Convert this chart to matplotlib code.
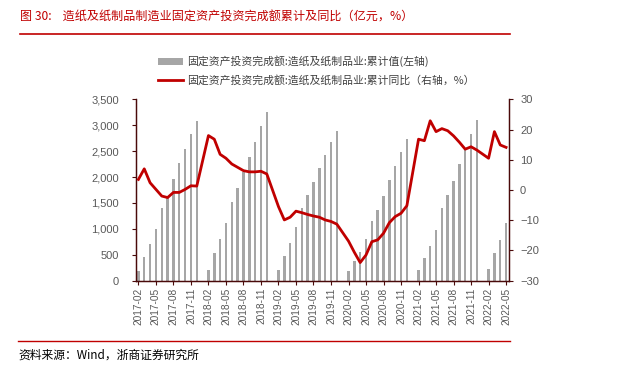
import numpy as np
import matplotlib.pyplot as plt

plt.rcParams['font.family'] = ['Noto Sans CJK SC', 'DejaVu Sans']

# monthly categories incl. January (no data in January)
months = []
for y in range(2017, 2023):
    for m in range(1, 13):
        if (y == 2017 and m < 2) or (y == 2022 and m > 5):
            continue
        months.append(f"{y}-{m:02d}")

# cumulative value (亿元), None = January without data
cum_value = [
    187, 463, 708, 1004, 1396, 1634, 1956, 2265, 2541, 2825, 3088,
    None, 206, 528, 798, 1107, 1518, 1795, 2104, 2393, 2683, 2992, 3249,
    None, 199, 483, 727, 1042, 1396, 1654, 1898, 2181, 2419, 2683, 2889,
    None, 180, 380, 553, 811, 1152, 1370, 1634, 1950, 2213, 2484, 2734,
    None, 206, 444, 676, 972, 1403, 1654, 1924, 2252, 2554, 2837, 3101,
    None, 225, 534, 778, 1107,
]
# cumulative yoy (%)
yoy = [
    3.5, 7.0, 2.4, 0.2, -2.0, -2.5, -0.8, -0.8, 0.2, 1.4, 1.3,
    None, 18.0, 16.8, 11.8, 10.5, 8.6, 7.5, 6.4, 6.0, 6.0, 6.2, 5.3,
    None, -5.5, -9.9, -9.0, -7.0, -7.5, -8.1, -8.6, -9.0, -9.9, -10.4, -11.3,
    None, -16.9, -20.6, -24.0, -21.5, -17.1, -16.5, -14.3, -10.8, -8.8, -7.7, -5.2,
    None, 16.8, 16.3, 22.9, 19.3, 20.3, 19.6, 17.9, 15.8, 13.5, 14.3, 13.2,
    None, 10.5, 19.3, 14.9, 14.1,
]

bar_label = "固定资产投资完成额:造纸及纸制品业:累计值(左轴)"
line_label = "固定资产投资完成额:造纸及纸制品业:累计同比（右轴，%）"
title = "图 30:    造纸及纸制品制造业固定资产投资完成额累计及同比（亿元，%）"
source = "资料来源：Wind，浙商证券研究所"

red = "#c00000"
spine_c = "#4a0a0a"
tick_c = "#595959"
tick_font = "Liberation Sans"

x = np.arange(len(months))
bv = np.array([np.nan if v is None else v for v in cum_value], dtype=float)
lv = np.array([np.nan if v is None else v for v in yoy], dtype=float)
ok = ~np.isnan(lv)

fig = plt.figure(figsize=(6.3, 3.83), dpi=100)
ax = fig.add_axes([135.5 / 630, 1 - 280.7 / 383, 373.5 / 630, 181.4 / 383])
ax2 = ax.twinx()

bars = ax.bar(x, bv, width=0.42, color="#a6a6a6", zorder=1)
ln, = ax2.plot(x[ok], lv[ok], color=red, lw=2.0, zorder=3)

ax.set_xlim(-0.5, len(months) - 0.5)
ax.set_ylim(0, 3500)
ax.set_yticks(np.arange(0, 3501, 500))
ax.set_yticklabels([f"{v:,}" for v in range(0, 3501, 500)])
ax2.set_ylim(-30, 30)
ax2.set_yticks(np.arange(-30, 31, 10))

ax.set_xticks(x[::3])
ax.set_xticklabels(months[::3], rotation=90)

for a in (ax, ax2):
    a.spines['top'].set_visible(False)
    for s in ('left', 'right', 'bottom'):
        a.spines[s].set_color(spine_c)
        a.spines[s].set_linewidth(0.9)
    a.tick_params(colors=spine_c, labelcolor=tick_c, labelsize=8, length=3, width=0.8)
    for lab in a.get_xticklabels() + a.get_yticklabels():
        lab.set_fontfamily(tick_font)
ax.tick_params(axis='x', labelsize=7.3, pad=2)
ax.tick_params(axis='y', pad=9)
ax2.tick_params(axis='y', pad=5)
ax2.set_zorder(ax.get_zorder() + 1)
ax2.patch.set_visible(False)

fig.legend([bars, ln], [bar_label, line_label], loc='upper left',
           bbox_to_anchor=(148 / 630, 1 - 46 / 383), frameon=False,
           fontsize=7.8, handlelength=2.3, handleheight=0.5, handletextpad=0.4,
           labelspacing=0.7, labelcolor="#404040")

fig.text(20 / 630, 1 - 17 / 383, title, color=red, fontsize=8.7, va='center', ha='left')
fig.add_artist(plt.Line2D([20 / 630, 510 / 630], [1 - 34 / 383] * 2, color=red, lw=1.2))
fig.add_artist(plt.Line2D([18 / 630, 510 / 630], [1 - 341 / 383] * 2, color=red, lw=1.0))
fig.text(18 / 630, 1 - 355 / 383, source, color="black", fontsize=8.5, va='center', ha='left')

fig.savefig("out.png", dpi=100)
